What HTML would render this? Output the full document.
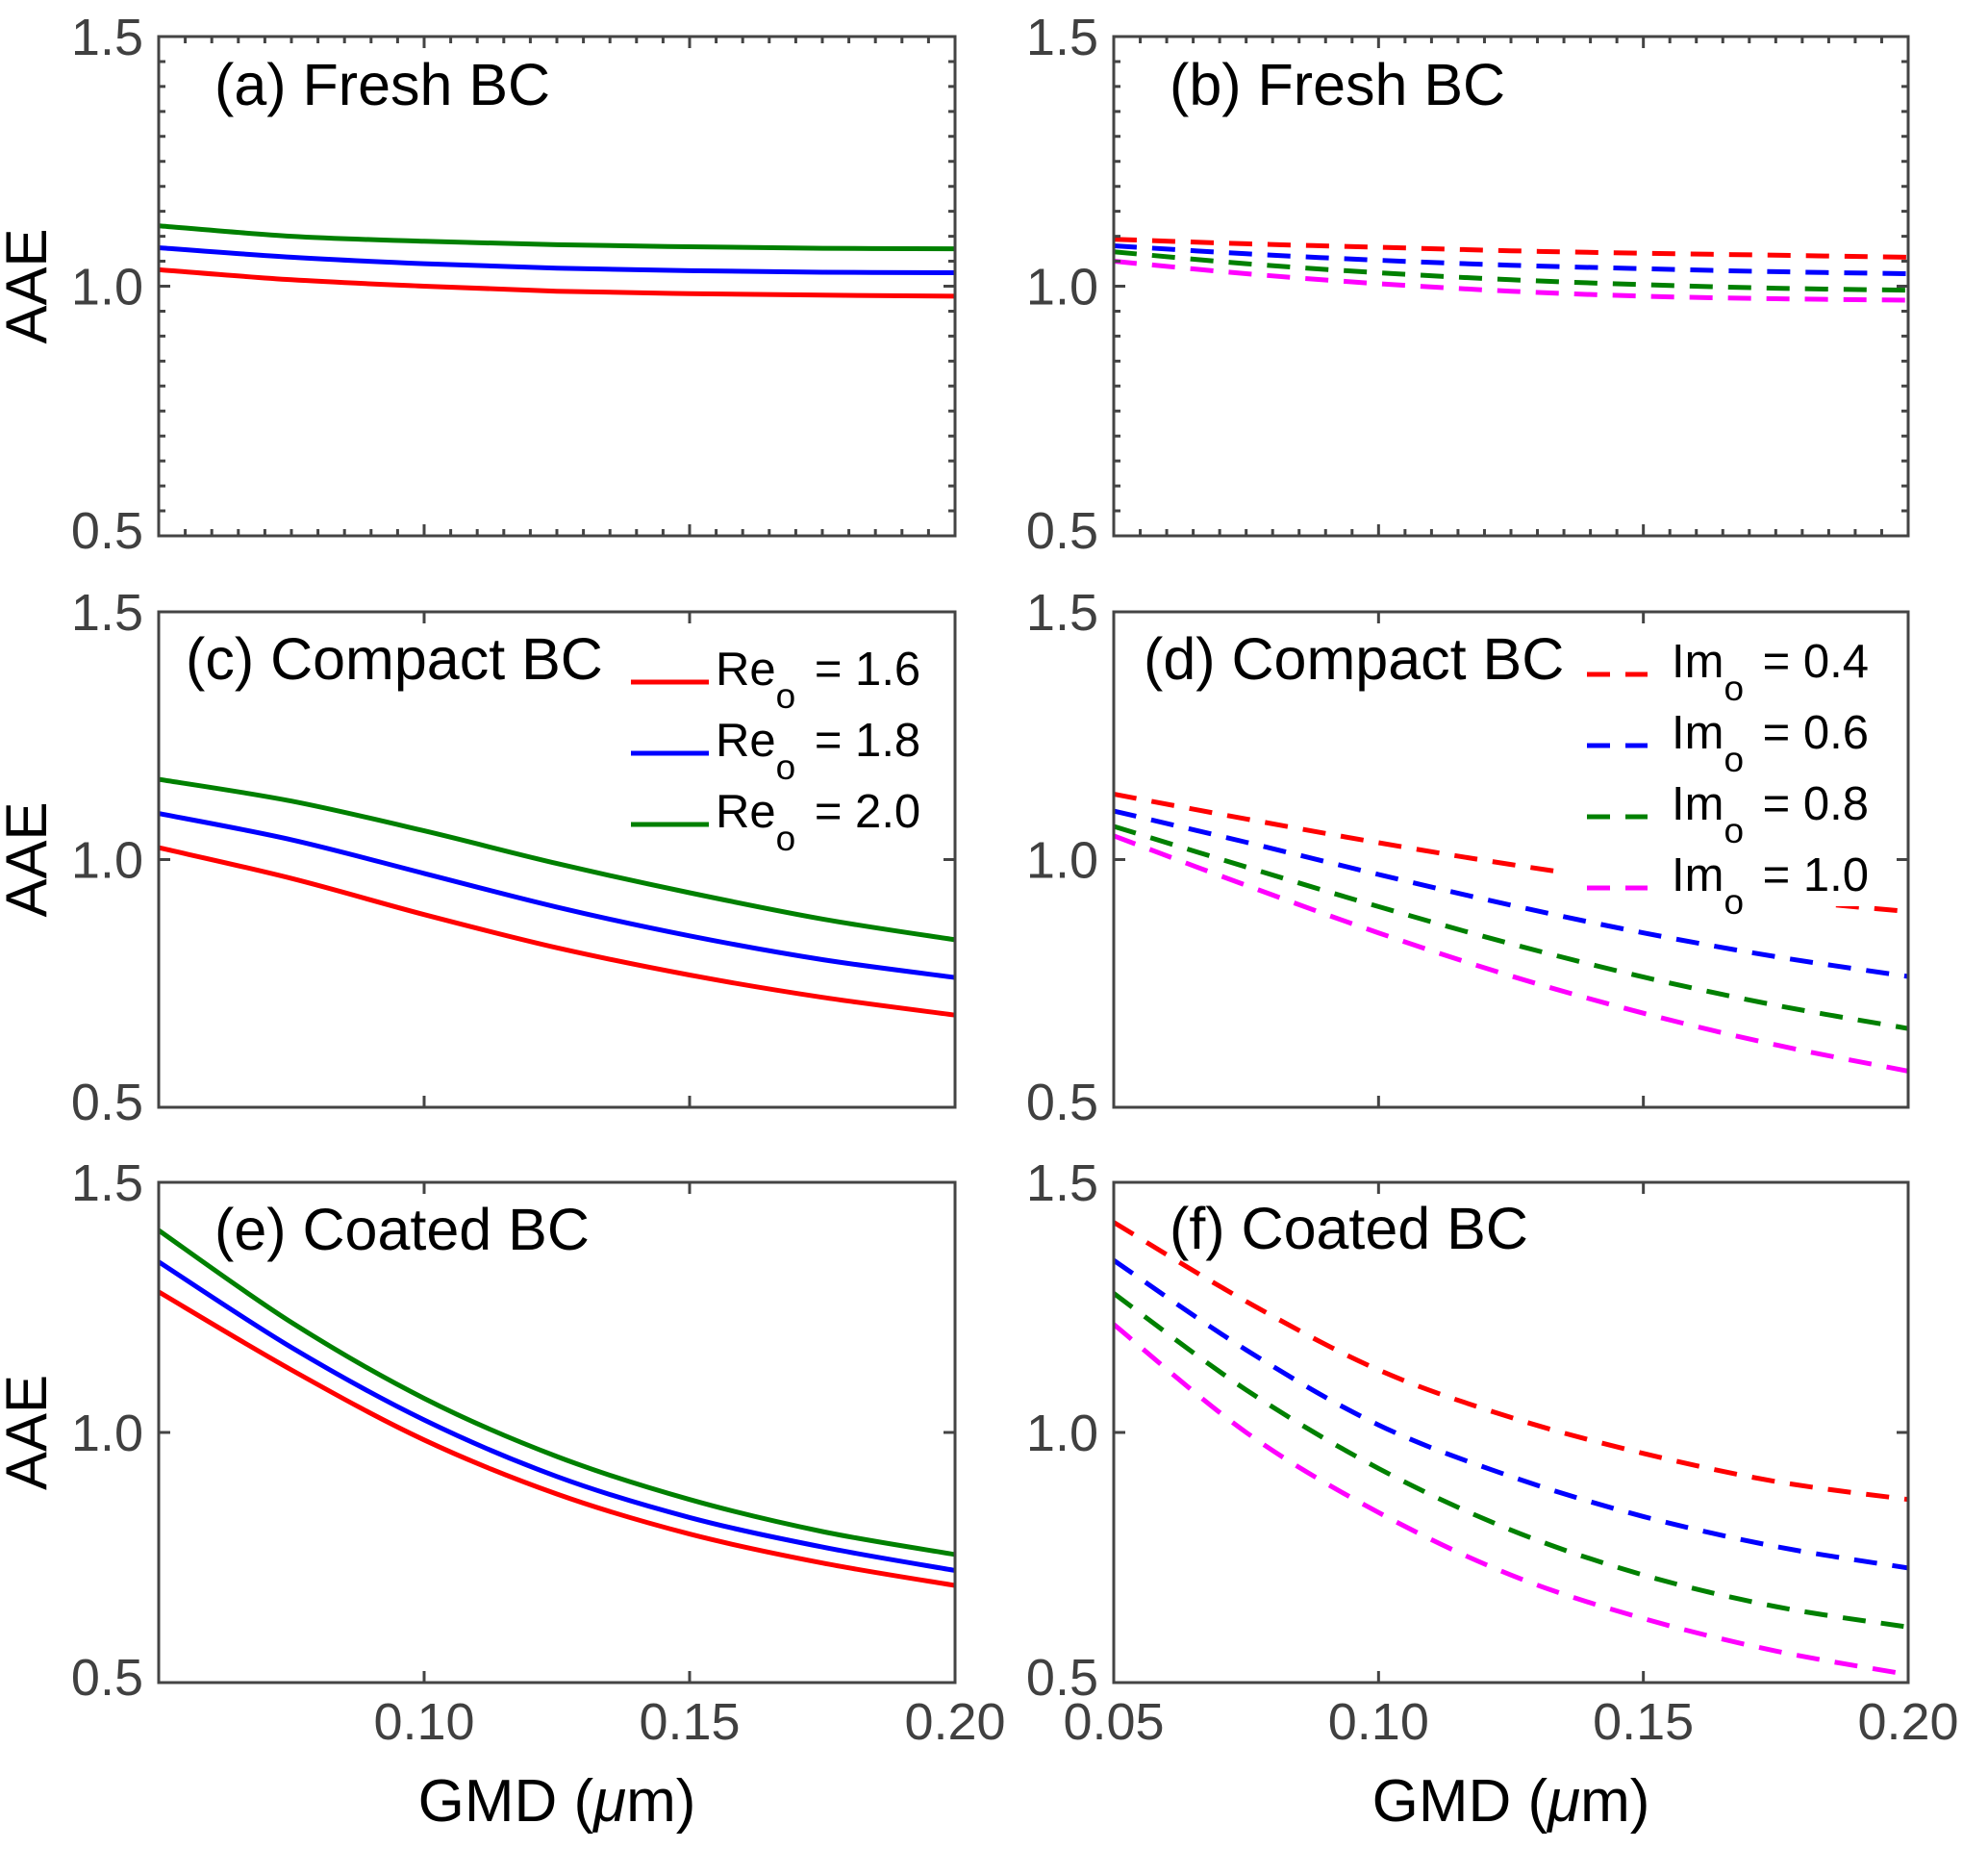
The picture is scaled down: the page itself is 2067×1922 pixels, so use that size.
<!DOCTYPE html>
<html><head><meta charset="utf-8"><style>
html,body{margin:0;padding:0;background:#fff;}
svg{display:block;font-family:"Liberation Sans",Arial,sans-serif;}
</style></head><body>
<svg id="fig" width="2067" height="1922" viewBox="0 0 2067 1922" xmlns="http://www.w3.org/2000/svg">
<rect x="0" y="0" width="2067" height="1922" fill="#fff"/>
</svg>
<script>
// ---- data ----
const gmd = [0.05, 0.075, 0.10, 0.125, 0.15, 0.175, 0.20];
const xTicks = [0.05, 0.10, 0.15, 0.20];
const xTickLabels = ["0.05", "0.10", "0.15", "0.20"];
const yTicks = [0.5, 1.0, 1.5];
const yTickLabels = ["0.5", "1.0", "1.5"];
const reLabels = ["1.6", "1.8", "2.0"];
const imLabels = ["0.4", "0.6", "0.8", "1.0"];
// panel a (fresh, Re)
const aRe16 = [1.033, 1.013, 1.000, 0.990, 0.985, 0.982, 0.980];
const aRe18 = [1.077, 1.058, 1.045, 1.036, 1.031, 1.028, 1.027];
const aRe20 = [1.121, 1.100, 1.090, 1.083, 1.079, 1.076, 1.075];
// panel b (fresh, Im)
const bIm04 = [1.094, 1.085, 1.078, 1.071, 1.066, 1.062, 1.058];
const bIm06 = [1.081, 1.065, 1.052, 1.042, 1.035, 1.029, 1.025];
const bIm08 = [1.069, 1.045, 1.027, 1.013, 1.003, 0.996, 0.992];
const bIm10 = [1.050, 1.025, 1.005, 0.990, 0.980, 0.975, 0.972];
// panel c (compact, Re)
const cRe16 = [1.024, 0.962, 0.889, 0.822, 0.767, 0.722, 0.686];
const cRe18 = [1.093, 1.040, 0.972, 0.904, 0.846, 0.798, 0.762];
const cRe20 = [1.162, 1.118, 1.058, 0.992, 0.933, 0.880, 0.838];
// panel d (compact, Im)
const dIm04 = [1.132, 1.082, 1.034, 0.990, 0.952, 0.920, 0.895];
const dIm06 = [1.098, 1.035, 0.970, 0.908, 0.852, 0.804, 0.764];
const dIm08 = [1.067, 0.985, 0.905, 0.830, 0.763, 0.706, 0.659];
const dIm10 = [1.048, 0.948, 0.852, 0.765, 0.690, 0.626, 0.573];
// panel e (coated, Re)
const eRe16 = [1.281, 1.125, 0.985, 0.877, 0.797, 0.739, 0.694];
const eRe18 = [1.341, 1.170, 1.025, 0.912, 0.830, 0.771, 0.724];
const eRe20 = [1.404, 1.220, 1.068, 0.952, 0.866, 0.802, 0.756];
// panel f (coated, Im)
const fIm04 = [1.420, 1.262, 1.125, 1.030, 0.958, 0.902, 0.866];
const fIm06 = [1.344, 1.165, 1.015, 0.912, 0.832, 0.772, 0.729];
const fIm08 = [1.278, 1.085, 0.928, 0.805, 0.715, 0.652, 0.611];
const fIm10 = [1.216, 1.000, 0.840, 0.715, 0.628, 0.563, 0.516];

const reColors = ["#ff0000", "#0000ff", "#008000"];
const imColors = ["#ff0000", "#0000ff", "#008000", "#ff00ff"];

const NS = "http://www.w3.org/2000/svg";
const svg = document.getElementById("fig");
function mk(tag, attrs, parent) {
  const e = document.createElementNS(NS, tag);
  for (const k in attrs) e.setAttribute(k, attrs[k]);
  (parent || svg).appendChild(e);
  return e;
}
const cols = [[165, 993], [1158, 1984]];
const rows = [[38, 557], [636, 1151], [1229, 1749]];
const panels = [
  {id: "a", col: 0, row: 0, title: "(a) Fresh BC", series: [aRe16, aRe18, aRe20], colors: reColors, dashed: false, minor: true, tx: 223, ty: 109},
  {id: "b", col: 1, row: 0, title: "(b) Fresh BC", series: [bIm04, bIm06, bIm08, bIm10], colors: imColors, dashed: true, minor: true, tx: 1216, ty: 109},
  {id: "c", col: 0, row: 1, title: "(c) Compact BC", series: [cRe16, cRe18, cRe20], colors: reColors, dashed: false, minor: false, tx: 193, ty: 706, legend: "re"},
  {id: "d", col: 1, row: 1, title: "(d) Compact BC", series: [dIm04, dIm06, dIm08, dIm10], colors: imColors, dashed: true, minor: false, tx: 1189, ty: 706, legend: "im"},
  {id: "e", col: 0, row: 2, title: "(e) Coated BC", series: [eRe16, eRe18, eRe20], colors: reColors, dashed: false, minor: false, tx: 223, ty: 1299},
  {id: "f", col: 1, row: 2, title: "(f) Coated BC", series: [fIm04, fIm06, fIm08, fIm10], colors: imColors, dashed: true, minor: false, tx: 1216, ty: 1298}
];

function smoothPath(pts) {
  let d = "M" + pts[0][0].toFixed(1) + "," + pts[0][1].toFixed(1);
  for (let i = 0; i < pts.length - 1; i++) {
    const p0 = pts[i - 1] || pts[i], p1 = pts[i], p2 = pts[i + 1], p3 = pts[i + 2] || pts[i + 1];
    const c1x = p1[0] + (p2[0] - p0[0]) / 6, c1y = p1[1] + (p2[1] - p0[1]) / 6;
    const c2x = p2[0] - (p3[0] - p1[0]) / 6, c2y = p2[1] - (p3[1] - p1[1]) / 6;
    d += " C" + c1x.toFixed(1) + "," + c1y.toFixed(1) + " " + c2x.toFixed(1) + "," + c2y.toFixed(1) + " " + p2[0].toFixed(1) + "," + p2[1].toFixed(1);
  }
  return d;
}

panels.forEach(p => {
  const [x0, x1] = cols[p.col], [y0, y1] = rows[p.row];
  const xs = v => x0 + (v - 0.05) / 0.15 * (x1 - x0);
  const ys = v => y1 - (v - 0.5) / 1.0 * (y1 - y0);
  const g = mk("g", {});
  
  
  const clipId = "clip-" + p.id;
  const cp = mk("clipPath", {id: clipId}, g);
  mk("rect", {x: x0, y: y0, width: x1 - x0, height: y1 - y0}, cp);
  p.series.forEach((vals, i) => {
    const pts = gmd.map((x, k) => [xs(x), ys(vals[k])]);
    const path = mk("path", {d: smoothPath(pts), fill: "none", stroke: p.colors[i], "stroke-width": 5, "clip-path": "url(#" + clipId + ")"}, g);
    if (p.dashed) path.setAttribute("stroke-dasharray", "24 16");
    
    
  });
  if (p.legend) {
    const isIm = p.legend === "im";
    const labels = isIm ? imLabels : reLabels;
    const lg = mk("g", {}, g);
    
    
    const lx = isIm ? 1630 : 640;
    mk("rect", {x: lx, y: 650, width: (isIm ? 1980 : 988) - lx, height: isIm ? 292 : 220, fill: "#fff"}, lg);
    labels.forEach((lab, i) => {
      const ry = (isIm ? 701 : 709) + i * 74;
      const l1 = isIm ? 1650 : 656, l2 = isIm ? 1713 : 737;
      const ln = mk("line", {x1: l1, y1: ry, x2: l2, y2: ry, stroke: p.colors[i], "stroke-width": 5}, lg);
      if (isIm) ln.setAttribute("stroke-dasharray", "24 16");
      
      
      const t = mk("text", {x: isIm ? 1738 : 744, y: ry + 3, "font-size": 49, fill: "#000"}, lg);
      
      
      const a = mk("tspan", {}, t); a.textContent = isIm ? "Im" : "Re";
      const b = mk("tspan", {dy: 24, "font-size": 37}, t); b.textContent = "o";
      const c = mk("tspan", {dy: -24, dx: 6}, t); c.textContent = " = " + lab;
    });
  }
  const fr = mk("rect", {x: x0, y: y0, width: x1 - x0, height: y1 - y0, fill: "none", stroke: "#444", "stroke-width": 3}, g);
  
  
  let td = "";
  xTicks.forEach(v => { const x = xs(v); td += `M${x},${y1}v-12M${x},${y0}v12`; });
  yTicks.forEach(v => { const y = ys(v); td += `M${x0},${y}h12M${x1},${y}h-12`; });
  if (p.minor) {
    for (let k = 0; k <= 30; k++) { const x = xs(0.05 + k * 0.005); td += `M${x},${y1}v-7M${x},${y0}v7`; }
    for (let k = 0; k <= 20; k++) { const y = ys(0.5 + k * 0.05); td += `M${x0},${y}h7M${x1},${y}h-7`; }
  }
  const tk = mk("path", {d: td, stroke: "#444", "stroke-width": 3, fill: "none"}, g);
  
  
  yTicks.forEach((v, i) => {
    const t = mk("text", {x: x0 - 16, y: ys(v) + 19 - (i === 0 ? 6 : 0), "font-size": 54, fill: "#404040", "text-anchor": "end"}, g);
    t.textContent = yTickLabels[i];
    
    
  });
  if (p.row === 2) {
    xTicks.forEach((v, i) => {
      if (p.col === 0 && i === 0) return;
      const t = mk("text", {x: xs(v), y: 1808, "font-size": 54, fill: "#404040", "text-anchor": "middle"}, g);
      t.textContent = xTickLabels[i];
      
      
    });
    const xl = mk("text", {x: (x0 + x1) / 2, y: 1893, "font-size": 62, fill: "#000", "text-anchor": "middle"}, g);
    
    
    const t1 = mk("tspan", {}, xl); t1.textContent = "GMD (";
    const t2 = mk("tspan", {"font-style": "italic"}, xl); t2.textContent = "\u03bc";
    const t3 = mk("tspan", {}, xl); t3.textContent = "m)";
  }
  if (p.col === 0) {
    const cy = (y0 + y1) / 2;
    const yl = mk("text", {x: 0, y: 0, "font-size": 60, fill: "#000", "text-anchor": "middle", transform: `translate(48,${cy}) rotate(-90)`}, g);
    yl.textContent = "AAE";
    
    
  }
  const tt = mk("text", {x: p.tx, y: p.ty, "font-size": 61, fill: "#000"}, g);
  tt.textContent = p.title;
  
  
});
</script>
</body></html>
